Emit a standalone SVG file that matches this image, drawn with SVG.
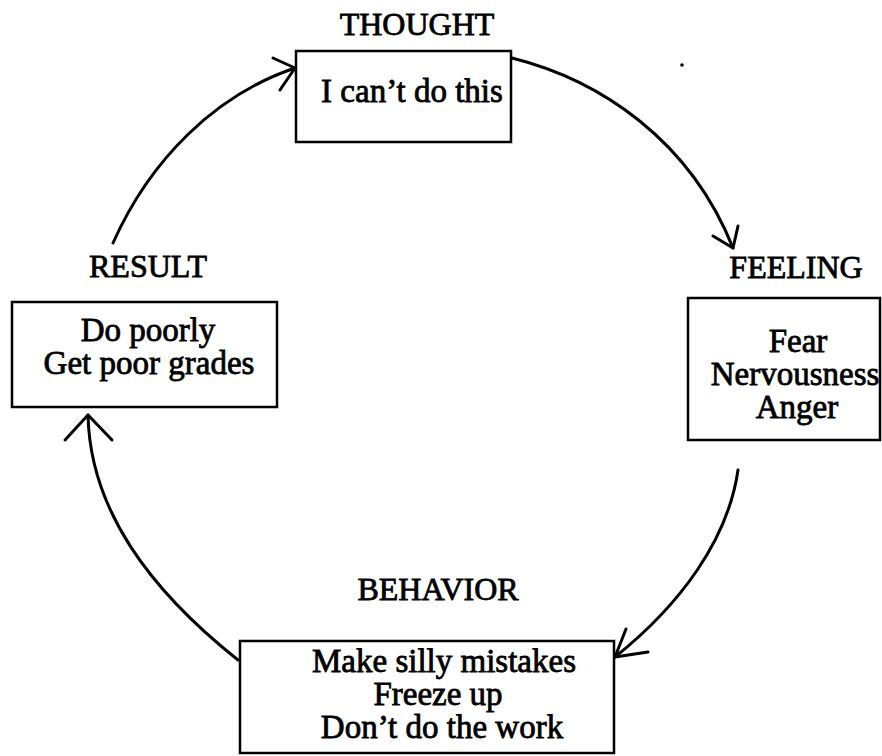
<svg xmlns="http://www.w3.org/2000/svg" width="882" height="756" viewBox="0 0 882 756">
  <style>
    .lbl { font-family: "Liberation Serif", "Times New Roman", serif; font-size: 32px; fill: #000; stroke: #000; stroke-width: 0.8; text-anchor: middle; }
    .txt { font-family: "Liberation Serif", "Times New Roman", serif; font-size: 33px; fill: #000; stroke: #000; stroke-width: 0.8; text-anchor: middle; }
    .box { fill: #fff; stroke: #000; stroke-width: 2.5; }
    .conn { fill: none; stroke: #000; stroke-width: 3; stroke-linecap: round; stroke-linejoin: round; }
  </style>
  <rect width="882" height="756" fill="#fff"/>

  <!-- cycle arrows -->
  <g id="connectors">
    <!-- result to thought -->
    <path class="conn" d="M113,243 C150,160 215,95 295,68"/>
    <path class="conn" d="M273,58 L295,68 L280,90"/>
    <!-- thought to feeling -->
    <path class="conn" d="M512,58 C600,80 690,140 733,248"/>
    <path class="conn" d="M713,236 L733,248 L738,226"/>
    <!-- feeling to behavior -->
    <path class="conn" d="M738,470 C728,540 680,605 615,657"/>
    <path class="conn" d="M626,629 L615,657 L648,652"/>
    <!-- behavior to result -->
    <path class="conn" d="M238,660 C150,590 90,510 88,415"/>
    <path class="conn" d="M65,440 L88,415 L112,440"/>
  </g>

  <g id="thought">
    <text class="lbl" x="417" y="35">THOUGHT</text>
    <rect class="box" x="296" y="51" width="215" height="91"/>
    <text class="txt" x="412" y="102">I can’t do this</text>
  </g>

  <g id="feeling">
    <text class="lbl" x="796" y="278">FEELING</text>
    <rect class="box" x="688" y="298" width="192" height="142"/>
    <text class="txt" x="798" y="352">Fear</text>
    <text class="txt" x="795" y="385">Nervousness</text>
    <text class="txt" x="797" y="418">Anger</text>
  </g>

  <g id="behavior">
    <text class="lbl" x="438" y="600">BEHAVIOR</text>
    <rect class="box" x="240" y="641" width="374" height="112"/>
    <text class="txt" x="444" y="672">Make silly mistakes</text>
    <text class="txt" x="438" y="705">Freeze up</text>
    <text class="txt" x="442" y="738">Don’t do the work</text>
  </g>

  <g id="result">
    <text class="lbl" x="148" y="277">RESULT</text>
    <rect class="box" x="12" y="302" width="265" height="105"/>
    <text class="txt" x="148" y="341">Do poorly</text>
    <text class="txt" x="149" y="374">Get poor grades</text>
  </g>

  <circle cx="682" cy="65" r="1.8" fill="#000"/>
</svg>
